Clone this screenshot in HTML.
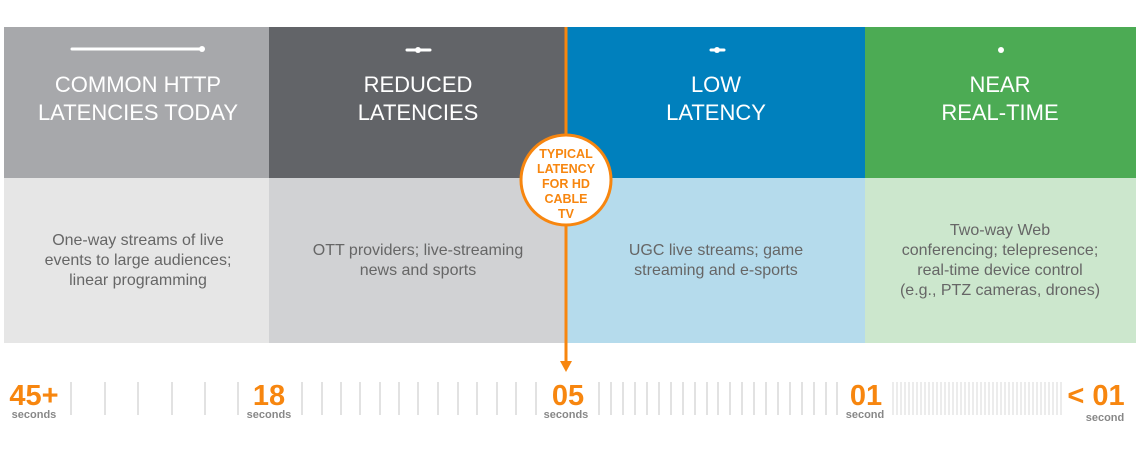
<!DOCTYPE html>
<html><head><meta charset="utf-8"><style>
body{margin:0;background:#fff;}
svg text{font-family:"Liberation Sans",sans-serif;}
</style></head><body>
<svg width="1140" height="450" viewBox="0 0 1140 450" xmlns="http://www.w3.org/2000/svg">
<rect width="1140" height="450" fill="#fff"/>
<rect x="4" y="27" width="265" height="151" fill="#a7a8ab"/>
<rect x="269" y="27" width="297" height="151" fill="#626468"/>
<rect x="566" y="27" width="299" height="151" fill="#0080bd"/>
<rect x="865" y="27" width="271" height="151" fill="#4cab54"/>
<rect x="4" y="178" width="265" height="165" fill="#e6e6e6"/>
<rect x="269" y="178" width="297" height="165" fill="#d1d2d4"/>
<rect x="566" y="178" width="299" height="165" fill="#b5dbec"/>
<rect x="865" y="178" width="271" height="165" fill="#cce7cd"/>
<g stroke="#fff" stroke-width="3" stroke-linecap="round" fill="#fff">
<line x1="72" y1="49" x2="202" y2="49"/><circle cx="202" cy="49" r="3" stroke="none"/>
<line x1="407" y1="50" x2="430" y2="50"/><circle cx="418" cy="50" r="3" stroke="none"/>
<line x1="711" y1="50" x2="724" y2="50"/><circle cx="717" cy="50" r="3" stroke="none"/>
<circle cx="1001" cy="50" r="3" stroke="none"/>
</g>
<g fill="#fff" font-size="22" text-anchor="middle">
<text x="138" y="92">COMMON HTTP</text><text x="138" y="120">LATENCIES TODAY</text>
<text x="418" y="92">REDUCED</text><text x="418" y="120">LATENCIES</text>
<text x="716" y="92">LOW</text><text x="716" y="120">LATENCY</text>
<text x="1000" y="92">NEAR</text><text x="1000" y="120">REAL-TIME</text>
</g>
<g fill="#666" font-size="16" text-anchor="middle">
<text x="138" y="245">One-way streams of live</text><text x="138" y="265">events to large audiences;</text><text x="138" y="285">linear programming</text>
<text x="418" y="255">OTT providers; live-streaming</text><text x="418" y="275">news and sports</text>
<text x="716" y="255">UGC live streams; game</text><text x="716" y="275">streaming and e-sports</text>
<text x="1000" y="235">Two-way Web</text><text x="1000" y="255">conferencing; telepresence;</text><text x="1000" y="275">real-time device control</text><text x="1000" y="295">(e.g., PTZ cameras, drones)</text>
</g>
<line x1="566" y1="27" x2="566" y2="362" stroke="#f7860f" stroke-width="3"/>
<polygon points="560,361 572,361 566,372" fill="#f7860f"/>
<circle cx="566" cy="180" r="45" fill="#fff" stroke="#f7860f" stroke-width="3"/>
<g fill="#f7860f" font-size="12.5" font-weight="bold" text-anchor="middle">
<text x="566" y="158">TYPICAL</text><text x="566" y="173">LATENCY</text><text x="566" y="188">FOR HD</text><text x="566" y="203">CABLE</text><text x="566" y="218">TV</text>
</g>
<g stroke="#cfcfcf" stroke-width="1.2">
<line x1="71" y1="382" x2="71" y2="415"/><line x1="105" y1="382" x2="105" y2="415"/><line x1="138" y1="382" x2="138" y2="415"/><line x1="172" y1="382" x2="172" y2="415"/><line x1="205" y1="382" x2="205" y2="415"/><line x1="238" y1="382" x2="238" y2="415"/>
<line x1="302" y1="382" x2="302" y2="415"/><line x1="322" y1="382" x2="322" y2="415"/><line x1="341" y1="382" x2="341" y2="415"/><line x1="360" y1="382" x2="360" y2="415"/><line x1="380" y1="382" x2="380" y2="415"/><line x1="399" y1="382" x2="399" y2="415"/><line x1="418" y1="382" x2="418" y2="415"/><line x1="438" y1="382" x2="438" y2="415"/><line x1="458" y1="382" x2="458" y2="415"/><line x1="477" y1="382" x2="477" y2="415"/><line x1="497" y1="382" x2="497" y2="415"/><line x1="516" y1="382" x2="516" y2="415"/><line x1="536" y1="382" x2="536" y2="415"/>
</g>
<g stroke="#cfcfcf" stroke-width="1.2" id="t2"></g>
<path d="M599 382V415M611 382V415M623 382V415M635 382V415M647 382V415M659 382V415M671 382V415M683 382V415M695 382V415M707 382V415M718 382V415M730 382V415M742 382V415M754 382V415M766 382V415M778 382V415M790 382V415M802 382V415M814 382V415M826 382V415M837 382V415" stroke="#cfcfcf" stroke-width="1.2"/>
<path d="M893 382V415M897 382V415M901 382V415M905 382V415M909 382V415M913 382V415M917 382V415M921 382V415M925 382V415M929 382V415M933 382V415M937 382V415M941 382V415M945 382V415M949 382V415M953 382V415M957 382V415M961 382V415M965 382V415M969 382V415M973 382V415M977 382V415M981 382V415M985 382V415M989 382V415M993 382V415M997 382V415M1001 382V415M1005 382V415M1009 382V415M1013 382V415M1017 382V415M1021 382V415M1025 382V415M1029 382V415M1033 382V415M1037 382V415M1041 382V415M1045 382V415M1049 382V415M1053 382V415M1057 382V415M1061 382V415" stroke="#d8d8d8" stroke-width="1"/>
<g fill="#f7860f" font-size="29" font-weight="bold" text-anchor="middle">
<text x="34" y="405">45+</text><text x="269" y="405">18</text><text x="568" y="405">05</text><text x="866" y="405">01</text><text x="1096" y="405">&lt; 01</text>
</g>
<g fill="#888" font-size="11" font-weight="bold" text-anchor="middle">
<text x="34" y="418">seconds</text><text x="269" y="418">seconds</text><text x="566" y="418">seconds</text><text x="865" y="418">second</text><text x="1105" y="421">second</text>
</g>
</svg>
</body></html>
